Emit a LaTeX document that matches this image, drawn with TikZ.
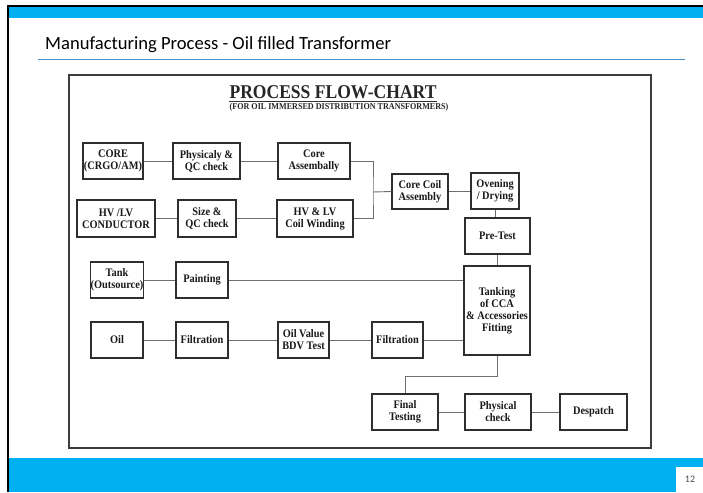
\documentclass[tikz,border=0pt]{standalone}
\usepackage{fontspec}
\setmainfont{Liberation Serif}
\newfontfamily\titlefont{Carlito}
\newfontfamily\hdfont{Liberation Serif}[FakeStretch=0.9]
\definecolor{topblue}{HTML}{00B0F0}
\definecolor{titleline}{HTML}{4A90C8}
\definecolor{boxc}{HTML}{2E2E2E}
\definecolor{linec}{HTML}{6E6E6E}
\definecolor{framec}{HTML}{3C3C3C}
\newcommand{\bx}[6]{\node[box, minimum width={(#4-#2)*1pt}, minimum height={(#5-#3)*1pt}] (#1) at ({(#2+#4)/2},{(#3+#5)/2}) {#6};}
\begin{document}
\begin{tikzpicture}[x=1pt,y=-1pt,
  box/.style={draw=boxc, line width=1.3pt, inner sep=0pt, align=center,
    font=\hdfont\bfseries\fontsize{11.5}{12}\selectfont, text=black!90},
  conn/.style={draw=linec, line width=0.9pt}]
\useasboundingbox (0,0) rectangle (703,492);
\fill[white] (0,0) rectangle (703,492);
% slide chrome
\fill[topblue] (7,5) rectangle (703,18);
\fill[black] (7,5) rectangle (703,7);
\fill[black] (7,5) rectangle (9,492);
\fill[topblue] (9,458) rectangle (703,492);
\fill[white] (676,467) rectangle (703,492);
\node[font=\titlefont\fontsize{10}{12}\selectfont, text=black!70] (pg) at (690,479.5) {12};
\node[anchor=base west, inner sep=0pt, font=\titlefont\fontsize{18.6}{22}\selectfont] (title) at (45,50) {Manufacturing Process - Oil filled Transformer};
\draw[titleline, line width=1pt] (38,60) -- (685,60);
% flowchart frame
\draw[framec, line width=1.6pt] (69,75) rectangle (651,448);
\node[anchor=base, inner sep=0pt, font=\hdfont\bfseries\fontsize{19.5}{22}\selectfont, text=black!85] (hd) at (333,99) {PROCESS FLOW-CHART};
\draw[black!80, line width=0.9pt] ([yshift=-2.5pt]hd.base west) -- ([yshift=-2.5pt]hd.base east);
\node[anchor=base, inner sep=0pt, font=\hdfont\bfseries\fontsize{9}{10}\selectfont, text=black!85] (sub) at (339,110) {(FOR OIL IMMERSED DISTRIBUTION TRANSFORMERS)};
% boxes
\bx{core}{83}{143}{143}{179}{CORE\\(CRGO/AM)}
\bx{phys}{173}{143}{240}{179}{Physicaly \&\\QC check}
\bx{coreasm}{278}{143}{350}{179}{Core\\Assembally}
\bx{hvlv}{77}{200}{155}{237}{HV /LV\\CONDUCTOR}
\bx{size}{178}{200}{236}{237}{Size \&\\QC check}
\bx{coil}{277}{200}{353}{237}{HV \& LV\\Coil Winding}
\bx{cca}{392}{174}{448}{209}{Core Coil\\Assembly}
\bx{oven}{471}{173}{519}{209}{Ovening\\/ Drying}
\bx{pre}{465}{218}{530}{254}{Pre-Test}
\bx{tank}{91}{262}{143}{298}{Tank\\(Outsource)}
\bx{paint}{176}{262}{228}{298}{Painting}
\bx{tcca}{464}{266}{530}{355}{Tanking\\of CCA\\\& Accessories\\Fitting}
\bx{oil}{91}{322}{143}{358}{Oil}
\bx{filta}{176}{322}{228}{358}{Filtration}
\bx{bdv}{278}{322}{329}{358}{Oil Value\\BDV Test}
\bx{filtb}{372}{322}{423}{358}{Filtration}
\bx{final}{372}{394}{438}{430}{Final\\Testing}
\bx{physb}{465}{394}{531}{430}{Physical\\check}
\bx{desp}{560}{394}{627}{430}{Despatch}
% connectors
\coordinate (br) at (373,192);
\coordinate (el) at (405,376);
\draw[conn] (core) -- (phys);
\draw[conn] (phys) -- (coreasm);
\draw[conn] (hvlv) -- (size);
\draw[conn] (size) -- (coil);
\draw[conn] (coreasm.east) -| (br) |- (coil.east);
\draw[conn] (br) -- (cca.west);
\draw[conn] (cca.east) -- (cca.east -| oven.west);
\draw[conn] (oven.south) -- (oven.south |- pre.north);
\draw[conn] (pre.south) -- (pre.south |- tcca.north);
\draw[conn] (tank) -- (paint);
\draw[conn] (paint.east) -- (paint.east -| tcca.west);
\draw[conn] (oil) -- (filta);
\draw[conn] (filta) -- (bdv);
\draw[conn] (bdv) -- (filtb);
\draw[conn] (filtb.east) -- (filtb.east -| tcca.west);
\draw[conn] (tcca.south) |- (el) -- (final.north);
\draw[conn] (final) -- (physb);
\draw[conn] (physb) -- (desp);
\end{tikzpicture}
\end{document}
